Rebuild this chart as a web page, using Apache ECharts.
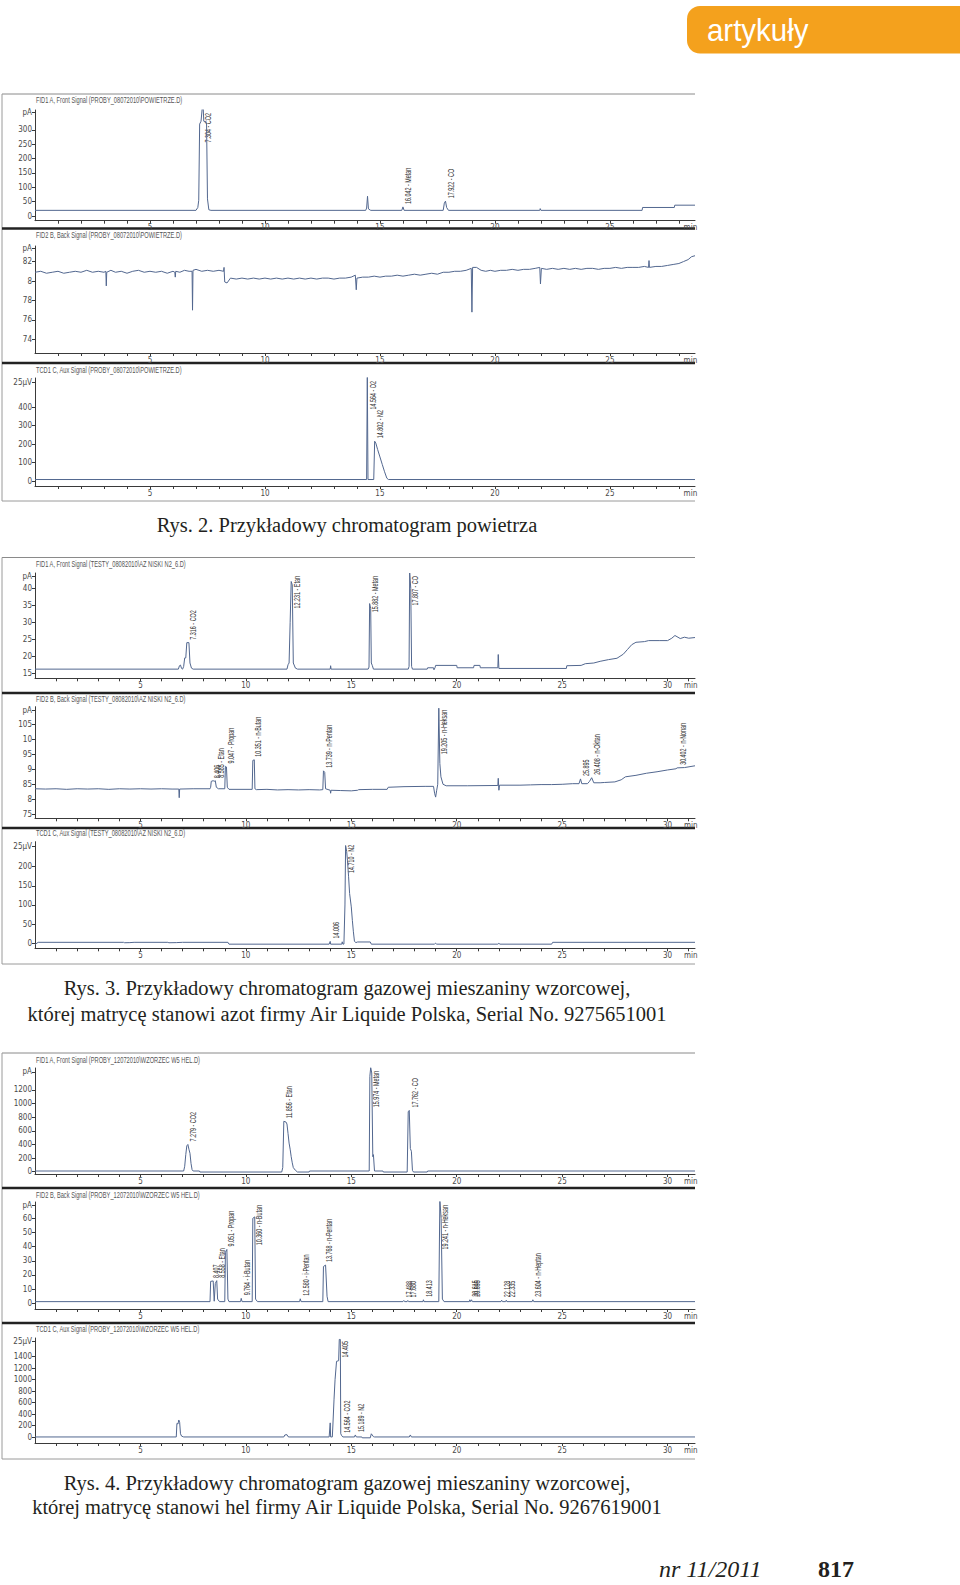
<!DOCTYPE html>
<html><head><meta charset="utf-8">
<script src="https://cdn.jsdelivr.net/npm/echarts@6/dist/echarts.min.js"></script>
<style>html,body{margin:0;padding:0;background:#fff}#c{width:960px;height:1585px}</style>
</head><body><div id="c"></div>
<script>
// ---------------- DATA ----------------
const fig2XLabels = [5, 10, 15, 20, 25];
const fig34XLabels = [5, 10, 15, 20, 25, 30];

const f2aTitle = 'FID1 A, Front Signal (PROBY_08072010\\POWIETRZE.D)';
const f2bTitle = 'FID2 B, Back Signal (PROBY_08072010\\POWIETRZE.D)';
const f2cTitle = 'TCD1 C, Aux Signal (PROBY_08072010\\POWIETRZE.D)';
const f3aTitle = 'FID1 A, Front Signal (TESTY_08082010\\AZ NISKI N2_6.D)';
const f3bTitle = 'FID2 B, Back Signal (TESTY_08082010\\AZ NISKI N2_6.D)';
const f3cTitle = 'TCD1 C, Aux Signal (TESTY_08082010\\AZ NISKI N2_6.D)';
const f4aTitle = 'FID1 A, Front Signal (PROBY_12072010\\WZORZEC W5 HEL.D)';
const f4bTitle = 'FID2 B, Back Signal (PROBY_12072010\\WZORZEC W5 HEL.D)';
const f4cTitle = 'TCD1 C, Aux Signal (PROBY_12072010\\WZORZEC W5 HEL.D)';

const f2aYTicks = [0, 50, 100, 150, 200, 250, 300, 360];
const f2aYLabels = ['0', '50', '100', '150', '200', '250', '300', 'pA'];
const f2bYTicks = [7.4, 7.6, 7.8, 8.0, 8.2, 8.334];
const f2bYLabels = ['74', '76', '78', '8', '82', 'pA'];
const f2cYTicks = [0, 100, 200, 300, 400, 535];
const f2cYLabels = ['0', '100', '200', '300', '400', '25µV'];
const f3aYTicks = [15, 20, 25, 30, 35, 40, 43.4];
const f3aYLabels = ['15', '20', '25', '30', '35', '40', 'pA'];
const f3bYTicks = [7.5, 8, 8.5, 9, 9.5, 10, 10.5, 10.98];
const f3bYLabels = ['75', '8', '85', '9', '95', '10', '105', 'pA'];
const f3cYTicks = [0, 50, 100, 150, 200, 252];
const f3cYLabels = ['0', '50', '100', '150', '200', '25µV'];
const f4aYTicks = [0, 200, 400, 600, 800, 1000, 1200, 1467];
const f4aYLabels = ['0', '200', '400', '600', '800', '1000', '1200', 'pA'];
const f4bYTicks = [0, 10, 20, 30, 40, 50, 60, 69];
const f4bYLabels = ['0', '10', '20', '30', '40', '50', '60', 'pA'];
const f4cYTicks = [0, 200, 400, 600, 800, 1000, 1200, 1400, 1660];
const f4cYLabels = ['0', '200', '400', '600', '800', '1000', '1200', '1400', '25µV'];

// traces: [time (min), signal]
const f2aTrace = [[0,20],[7.0,20],[7.08,30],[7.12,55],[7.16,320],[7.22,330],[7.3,400],[7.34,330],[7.46,325],[7.5,60],[7.56,22],[7.65,20],
  [14.38,20],[14.42,28],[14.46,69],[14.5,25],[14.6,20],[15.95,20],[16.0,32],[16.05,20],[17.75,20],[17.8,45],[17.85,52],[17.9,30],[17.98,20],
  [21.95,20],[21.97,26],[22.0,20],[26.4,20],[26.42,30],[27.8,30],[27.82,38],[28.7,38]];
const f2bTrace = [[0,8.09],[0.25,8.1],[0.5,8.08],[0.75,8.09],[1.0,8.1],[1.25,8.08],[1.5,8.09],[1.75,8.1],[2.0,8.09],[2.25,8.11],[2.5,8.09],[2.75,8.1],[3.0,8.09],[3.08,8.1],[3.1,7.95],[3.12,8.09],[3.3,8.11],[3.5,8.09],[3.75,8.1],[4.0,8.08],[4.25,8.1],[4.5,8.11],[4.75,8.09],[5.0,8.1],[5.25,8.09],[5.5,8.1],[5.75,8.08],[6.0,8.1],[6.08,8.09],[6.1,8.04],[6.12,8.1],[6.3,8.09],[6.5,8.11],[6.7,8.1],[6.83,8.1],[6.85,7.7],[6.87,8.11],[7.0,8.12],[7.25,8.1],[7.5,8.11],[7.75,8.1],[8.0,8.11],[8.2,8.1],[8.22,8.14],[8.25,7.99],[8.35,7.98],[8.5,8.03],[8.75,8.02],[9.0,8.03],[9.25,8.02],[9.5,8.03],[9.75,8.02],[10.0,8.03],[10.25,8.02],[10.5,8.03],[10.75,8.02],[11.0,8.03],[11.25,8.02],[11.5,8.03],[11.75,8.02],[12.0,8.03],[12.25,8.02],[12.5,8.03],[12.75,8.03],[13.0,8.02],[13.25,8.03],[13.5,8.03],[13.75,8.04],[13.93,8.06],[13.97,7.91],[14.0,8.03],[14.25,8.04],[14.5,8.04],[14.75,8.05],[15.0,8.04],[15.25,8.05],[15.5,8.05],[15.75,8.06],[16.0,8.05],[16.25,8.06],[16.5,8.07],[16.75,8.06],[17.0,8.07],[17.25,8.08],[17.5,8.07],[17.75,8.09],[18.0,8.09],[18.25,8.1],[18.5,8.1],[18.75,8.11],[18.97,8.13],[19.0,7.68],[19.03,8.14],[19.2,8.14],[19.4,8.11],[19.6,8.1],[19.8,8.11],[20.0,8.1],[20.25,8.11],[20.5,8.11],[20.75,8.12],[21.0,8.11],[21.25,8.12],[21.5,8.12],[21.75,8.13],[21.95,8.14],[21.98,7.97],[22.02,8.13],[22.25,8.12],[22.5,8.13],[22.75,8.12],[23.0,8.13],[23.25,8.12],[23.5,8.13],[23.75,8.12],[24.0,8.13],[24.25,8.13],[24.5,8.12],[24.75,8.13],[25.0,8.13],[25.25,8.14],[25.5,8.13],[25.75,8.14],[26.0,8.14],[26.25,8.14],[26.5,8.15],[26.68,8.14],[26.7,8.21],[26.72,8.14],[27.0,8.15],[27.25,8.15],[27.5,8.16],[27.75,8.17],[28.0,8.18],[28.2,8.2],[28.4,8.22],[28.55,8.25],[28.7,8.26]];
const f2cTrace = [[0,8],[14.42,8],[14.45,570],[14.48,8],[14.73,8],[14.77,215],[14.82,205],[14.9,170],[15.0,130],[15.1,90],[15.2,50],[15.3,15],[15.37,8],[28.7,8]];

const f3aTrace = [[0,16.2],[6.8,16.2],[6.85,17.2],[6.9,17.4],[6.95,16.4],[7.0,16.2],[7.05,17],[7.1,19.5],[7.15,19.5],[7.2,24],[7.3,24],[7.35,18],[7.42,16.5],[7.5,16.2],
  [11.95,16.2],[12.0,17.5],[12.05,18],[12.1,30],[12.15,42],[12.2,41],[12.25,18],[12.35,16.5],[12.45,16.2],[14.0,16.2],[14.02,17.2],[14.04,16.2],
  [15.8,16.2],[15.84,16.8],[15.87,35.5],[15.92,34],[15.95,18],[16.0,17.2],[16.05,16.2],[17.7,16.2],[17.74,17],[17.77,44.5],[17.82,40],[17.86,17],[17.9,16.2],
  [18.6,16.2],[18.62,16.6],[18.9,16.6],[18.92,16],[18.97,16.6],[19.0,17.3],[20.0,17.3],[20.02,16.6],[20.8,16.6],[20.82,17.3],[21.1,17.3],[21.12,16.6],[21.95,16.6],[21.97,20.5],[22.0,16.4],
  [25.2,16.4],[25.22,17.2],[25.9,17.3],[26.1,17.8],[26.5,18],[26.8,18.5],[27.2,19],[27.6,19.4],[27.9,20.6],[28.1,22],[28.3,23.4],[28.5,24.1],[28.9,24.3],[29.1,24.6],[29.6,24.6],[30.0,24.6],[30.2,25.3],[30.35,26.1],[30.6,25.2],[30.8,25.6],[31.0,25.3],[31.3,25.5]];
const f3bTrace = [[0,8.35],[0.5,8.34],[1.0,8.35],[1.5,8.33],[2.0,8.35],[2.5,8.34],[3.0,8.35],[3.5,8.33],[4.0,8.35],[4.5,8.34],[5.0,8.35],[5.5,8.34],[6.0,8.35],[6.5,8.34],[6.82,8.34],[6.84,8.05],[6.86,8.34],[7.5,8.35],[8.3,8.35],
  [8.33,8.4],[8.36,8.6],[8.45,8.62],[8.5,8.6],[8.55,8.62],[8.6,8.4],[8.7,8.35],[9.0,8.35],[9.03,9.1],[9.08,9.08],[9.12,8.4],[9.2,8.33],
  [10.3,8.33],[10.33,9.3],[10.4,9.32],[10.43,8.35],[10.5,8.32],[11.0,8.33],[11.5,8.31],[12.0,8.32],[12.5,8.31],[13.0,8.32],[13.5,8.31],
  [13.65,8.32],[13.68,8.95],[13.74,8.9],[13.78,8.35],[14.0,8.3],[14.02,8.2],[14.04,8.3],[14.5,8.29],[15.0,8.28],[15.3,8.3],[15.35,8.32],[16.0,8.33],[16.7,8.33],[16.75,8.4],[17.5,8.42],[18.5,8.43],[18.9,8.43],[18.95,8.2],[19.0,8.07],[19.05,8.3],
  [19.1,8.5],[19.15,11.05],[19.2,9.2],[19.25,8.75],[19.35,8.5],[19.5,8.45],[20.5,8.45],[21.95,8.46],[21.97,8.7],[22.0,8.3],[22.03,8.47],[23.0,8.47],[23.5,8.48],[24.0,8.49],[24.5,8.49],[25.0,8.5],[25.5,8.52],
  [25.8,8.52],[25.87,8.68],[25.93,8.52],[26.2,8.52],[26.3,8.6],[26.4,8.72],[26.5,8.55],[26.8,8.55],[27.0,8.56],[27.5,8.58],[27.8,8.65],[28.0,8.75],[28.5,8.8],[29.0,8.87],[29.5,8.92],[30.0,8.98],[30.4,9.02],[30.45,9.05],[30.8,9.06],[31.3,9.12]];
const f3cTrace = [[0,-3],[0.15,2.6],[4.2,2.6],[4.25,1.5],[4.5,1.8],[4.7,2.6],[6.3,2.6],[6.35,1.5],[6.7,1.8],[7.0,2.6],[9.15,2.6],[9.2,-2.2],[13.95,-2.2],[14.0,5],[14.02,-2.2],
  [14.55,-2.2],[14.57,4],[14.6,-2],[14.65,-2],[14.7,100],[14.73,255],[14.78,240],[14.82,215],[14.87,175],[14.92,130],[15.0,95],[15.05,60],[15.1,30],[15.15,5],[15.22,2],[15.3,3.5],[15.9,3.5],[15.95,-2.2],
  [18.95,-2.2],[19.0,0.5],[19.05,-2.2],[21.95,-2.2],[22.0,0],[22.05,-2.2],[24.5,-2.2],[24.55,2.6],[31.3,2.6]];

const f4aTrace = [[0,10],[7.05,10],[7.1,80],[7.15,250],[7.2,380],[7.25,400],[7.3,330],[7.35,270],[7.4,120],[7.45,30],[7.5,10],[7.8,10],[7.82,-5],
  [11.7,-5],[11.75,60],[11.8,740],[11.9,730],[11.95,700],[12.0,560],[12.05,420],[12.1,330],[12.15,220],[12.2,130],[12.25,60],[12.35,20],[12.45,-5],[13.0,-5],[13.02,10],
  [15.85,10],[15.88,1400],[15.92,1530],[15.97,1450],[16.02,220],[16.05,250],[16.1,10],[16.5,10],[16.52,-5],[17.65,-5],[17.7,880],[17.75,900],[17.8,340],[17.85,300],[17.9,20],[17.95,-5],[18.6,-5],[18.62,10],[31.3,10]];
const f4bTrace = [[0,1.2],[8.3,1.2],[8.33,15.5],[8.45,15.8],[8.5,1.5],[8.55,14],[8.62,16],[8.66,3],[8.75,1.2],[9.0,1.2],[9.03,36],[9.1,38],[9.15,3],[9.2,1.2],[9.75,1.2],[9.78,3.5],[9.82,1.2],
  [10.3,1.2],[10.33,60],[10.42,61],[10.46,3],[10.55,1.2],[12.55,1.2],[12.58,3.2],[12.62,1.2],[13.65,1.2],[13.68,26],[13.78,27],[13.85,5],[13.9,1.2],
  [17.45,1.2],[17.49,2],[17.53,1.2],[17.65,1.2],[17.68,2],[17.72,1.2],[18.4,1.2],[18.42,2.5],[18.45,1.2],[19.15,1.2],[19.2,73],[19.26,60],[19.32,3],[19.4,1.2],
  [20.6,1.2],[20.62,2.5],[20.66,1.2],[20.7,2.5],[20.74,1.2],[22.1,1.2],[22.13,2.2],[22.17,1.2],[22.32,1.2],[22.35,2.2],[22.38,1.2],[23.58,1.2],[23.61,2.5],[23.65,1.2],[31.3,1.2]];
const f4cTrace = [[0,5],[6.7,5],[6.73,240],[6.78,230],[6.82,300],[6.86,260],[6.9,60],[6.95,20],[7.05,5],[11.8,5],[11.85,40],[11.95,45],[12.0,10],[12.05,5],
  [13.95,5],[14.0,250],[14.02,5],[14.1,5],[14.13,230],[14.18,650],[14.23,1000],[14.3,1320],[14.4,1330],[14.43,1700],[14.48,1700],[14.5,60],[14.55,25],[14.6,5],
  [15.15,5],[15.19,40],[15.24,5],[15.5,5],[15.52,-10],[15.9,-10],[15.95,60],[16.05,10],[16.1,5],[17.75,5],[17.8,40],[17.85,5],[31.3,5]];

// peak annotations: [time, apex, text]
const f2aPeaks = [[7.3,400,'7.304 - CO2'],[16.0,32,'16.042 - Metan'],[17.85,52,'17.922 - CO']];
const f2bPeaks = [];
const f2cPeaks = [[14.45,570,'14.564 - O2'],[14.77,215,'14.802 - N2']];
const f3aPeaks = [[7.25,24,'7.316 - CO2'],[12.15,42,'12.231 - Etan'],[15.87,35.5,'15.882 - Metan'],[17.77,44.5,'17.807 - CO']];
const f3bPeaks = [[8.36,8.6,'8.406'],[8.55,8.62,'8.585 - Etan'],[9.03,9.1,'9.047 - Propan'],[10.33,9.32,'10.351 - n-Butan'],[13.68,8.95,'13.739 - n-Pentan'],[19.15,11.05,'19.205 - n-Heksan'],[25.87,8.68,'25.895'],[26.4,8.72,'26.408 - n-Oktan'],[30.45,9.05,'30.402 - n-Nonan']];
const f3cPeaks = [[14.0,5,'14.006'],[14.73,255,'14.710 - N2']];
const f4aPeaks = [[7.25,400,'7.279 - CO2'],[11.8,740,'11.856 - Etan'],[15.92,1530,'15.974 - Metan'],[17.75,900,'17.762 - CO']];
const f4bPeaks = [[8.33,15.8,'8.407'],[8.6,16,'8.558 - Etan'],[9.05,38,'9.051 - Propan'],[9.78,3.5,'9.764 - i-Butan'],[10.35,61,'10.360 - n-Butan'],[12.58,3.2,'12.580 - i-Pentan'],[13.7,27,'13.768 - n-Pentan'],[17.49,2,'17.488'],[17.68,2,'17.680'],[18.42,2.5,'18.413'],[19.2,73,'19.241 - n-Heksan'],[20.62,2.5,'20.615'],[20.7,2.5,'20.695'],[22.13,2.2,'22.128'],[22.35,2.2,'22.335'],[23.61,2.5,'23.604 - n-Heptan']];
const f4cPeaks = [[14.45,1700,'14.405'],[14.55,25,'14.564 - CO2'],[15.19,40,'15.189 - N2']];

const captions = [
  ['Rys. 2. Przykładowy chromatogram powietrza'],
  ['Rys. 3. Przykładowy chromatogram gazowej mieszaniny wzorcowej,', 'której matrycę stanowi azot firmy Air Liquide Polska, Serial No. 9275651001'],
  ['Rys. 4. Przykładowy chromatogram gazowej mieszaniny wzorcowej,', 'której matrycę stanowi hel firmy Air Liquide Polska, Serial No. 9267619001']
];
const headerText = 'artykuły';
const footerIssue = 'nr 11/2011';
const footerPage = '817';

// ---------------- LAYOUT ----------------
const panels = [
  {title:f2aTitle, data:f2aTrace, yT:f2aYTicks, yL:f2aYLabels, xL:fig2XLabels, peaks:f2aPeaks, xMax:28.7, yMin:-16, yMax:369, top:110, bot:220.7, tY:100},
  {title:f2bTitle, data:f2bTrace, yT:f2bYTicks, yL:f2bYLabels, xL:fig2XLabels, peaks:f2bPeaks, xMax:28.7, yMin:7.26, yMax:8.36, top:246, bot:353, tY:234.5},
  {title:f2cTitle, data:f2cTrace, yT:f2cYTicks, yL:f2cYLabels, xL:fig2XLabels, peaks:f2cPeaks, xMax:28.7, yMin:-27, yMax:557, top:378, bot:486, tY:370},
  {title:f3aTitle, data:f3aTrace, yT:f3aYTicks, yL:f3aYLabels, xL:fig34XLabels, peaks:f3aPeaks, xMax:31.3, yMin:13.5, yMax:44.5, top:573, bot:678.3, tY:564},
  {title:f3bTitle, data:f3bTrace, yT:f3bYTicks, yL:f3bYLabels, xL:fig34XLabels, peaks:f3bPeaks, xMax:31.3, yMin:7.36, yMax:11.1, top:706.7, bot:818.3, tY:699},
  {title:f3cTitle, data:f3cTrace, yT:f3cYTicks, yL:f3cYLabels, xL:fig34XLabels, peaks:f3cPeaks, xMax:31.3, yMin:-13, yMax:265, top:841.7, bot:948.3, tY:833},
  {title:f4aTitle, data:f4aTrace, yT:f4aYTicks, yL:f4aYLabels, xL:fig34XLabels, peaks:f4aPeaks, xMax:31.3, yMin:-34, yMax:1523, top:1068, bot:1174, tY:1060},
  {title:f4bTitle, data:f4bTrace, yT:f4bYTicks, yL:f4bYLabels, xL:fig34XLabels, peaks:f4bPeaks, xMax:31.3, yMin:-4, yMax:71.5, top:1202, bot:1309, tY:1195},
  {title:f4cTitle, data:f4cTrace, yT:f4cYTicks, yL:f4cYLabels, xL:fig34XLabels, peaks:f4cPeaks, xMax:31.3, yMin:-100, yMax:1725, top:1338, bot:1443, tY:1329}
];
const frames = [
  {top:94, seps:[228.5, 363], bottom:501},
  {top:557.5, seps:[693, 828], bottom:964},
  {top:1053, seps:[1188, 1323], bottom:1459}
];
const captionY = [[524.5], [988, 1013.5], [1482.5, 1507]];

const GL = 35, GR = 695;
const NARROW = "'Liberation Sans Narrow','Arial Narrow','DejaVu Sans Condensed',sans-serif";
const SANS = "'Liberation Sans',Arial,sans-serif";
const SERIF = "'Liberation Serif','Times New Roman',serif";
const TRACE = '#52678f', AXIS = '#3a3a3a', TXT = '#4a4a4a';

const chart = echarts.init(document.getElementById('c'), null, {renderer:'svg', width:960, height:1585});

function lookup(vals, labs, v){
  for (let k=0;k<vals.length;k++) if (Math.abs(vals[k]-v) < 1e-6) return labs[k];
  return '';
}

const grid=[], xAxis=[], yAxis=[], series=[];
panels.forEach((p,i)=>{
  grid.push({left:GL, width:GR-GL, top:p.top, height:p.bot-p.top});
  const xt=[]; for (let m=1;m<=Math.floor(p.xMax);m++) xt.push(m);
  const minPos = p.xMax - 0.2;
  xAxis.push({gridIndex:i, type:'value', min:0, max:p.xMax,
    axisLine:{onZero:false, lineStyle:{color:AXIS, width:1}},
    axisTick:{customValues:xt, length:3, lineStyle:{color:AXIS}},
    axisLabel:{customValues:p.xL.concat([minPos]), fontSize:8, fontFamily:NARROW, color:TXT, margin:3,
      formatter:(v)=> Math.abs(v-minPos)<1e-6 ? 'min' : String(v)},
    splitLine:{show:false}});
  yAxis.push({gridIndex:i, type:'value', min:p.yMin, max:p.yMax,
    axisLine:{show:true, lineStyle:{color:AXIS, width:1}},
    axisTick:{show:true, customValues:p.yT, length:3, lineStyle:{color:AXIS}},
    axisLabel:{customValues:p.yT, fontSize:8, fontFamily:NARROW, color:TXT, margin:3,
      formatter:(v)=>lookup(p.yT, p.yL, v)},
    splitLine:{show:false}});
  series.push({type:'line', xAxisIndex:i, yAxisIndex:i, data:p.data, showSymbol:false, symbol:'none',
    lineStyle:{color:TRACE, width:1}, clip:true, silent:true, animation:false});
});

chart.setOption({animation:false, backgroundColor:'#fff', grid, xAxis, yAxis, series});

// ------------- graphic overlays -------------
const mctx = document.createElement('canvas').getContext('2d');
function tw(str, size, fam){ mctx.font = size+'px '+fam; return mctx.measureText(str).width; }

const g = [];
// header
g.push({type:'rect', shape:{x:687, y:6, width:280, height:47.5, r:[13,0,0,13]}, style:{fill:'#f4a11d'}, silent:true});
g.push({type:'text', x:707, y:30, scaleX:0.92, style:{text:headerText, fill:'#fff', fontSize:32, fontFamily:SANS, align:'left', verticalAlign:'middle', textAlign:'left', textVerticalAlign:'middle'}, silent:true});

// frames
frames.forEach(f=>{
  g.push({type:'line', shape:{x1:2, y1:f.top, x2:GR, y2:f.top}, style:{stroke:'#8a8a8a', lineWidth:1}, silent:true});
  g.push({type:'line', shape:{x1:2, y1:f.top, x2:2, y2:f.bottom}, style:{stroke:'#9a9a9a', lineWidth:1}, silent:true});
  g.push({type:'line', shape:{x1:2, y1:f.bottom, x2:GR, y2:f.bottom}, style:{stroke:'#9a9a9a', lineWidth:1}, silent:true});
  f.seps.forEach(s=>g.push({type:'line', shape:{x1:2, y1:s, x2:GR, y2:s}, style:{stroke:'#222', lineWidth:2.5}, silent:true}));
});

// panel titles and peak labels
const LBLSIZE = 9, LBLSCALE = 0.6;
panels.forEach((p,i)=>{
  g.push({type:'text', x:36, y:p.tY, scaleX:0.6, style:{text:p.title, fill:'#555', fontSize:9.5, fontFamily:SANS, align:'left', verticalAlign:'middle', textAlign:'left', textVerticalAlign:'middle'}, silent:true});
  p.peaks.forEach(pk=>{
    const pt = chart.convertToPixel({gridIndex:i}, [pk[0], Math.min(pk[1], p.yMax)]);
    const len = tw(pk[2], LBLSIZE, SANS) * LBLSCALE;
    let b = pt[1] - 3;
    if (b - len < p.top + 3) b = p.top + 3 + len;
    g.push({type:'text', x:pt[0]+1, y:b, rotation:Math.PI/2, scaleX:LBLSCALE,
      style:{text:pk[2], fill:'#333', fontSize:LBLSIZE, fontFamily:SANS, align:'left', verticalAlign:'top', textAlign:'left', textVerticalAlign:'top'}, silent:true});
  });
});

// captions
captions.forEach((lines,ci)=>{
  lines.forEach((t,li)=>{
    g.push({type:'text', x:347, y:captionY[ci][li], style:{text:t, fill:'#231f20', fontSize:20.5, fontFamily:SERIF, align:'center', verticalAlign:'middle', textAlign:'center', textVerticalAlign:'middle'}, silent:true});
  });
});

// footer
g.push({type:'text', x:659, y:1569, style:{text:footerIssue, fill:'#231f20', fontSize:24, fontStyle:'italic', fontFamily:SERIF, align:'left', verticalAlign:'middle', textAlign:'left', textVerticalAlign:'middle'}, silent:true});
g.push({type:'text', x:818, y:1569, style:{text:footerPage, fill:'#231f20', fontSize:24, fontWeight:'bold', fontFamily:SERIF, align:'left', verticalAlign:'middle', textAlign:'left', textVerticalAlign:'middle'}, silent:true});

chart.setOption({graphic:{elements:g}});
</script>
</body></html>
